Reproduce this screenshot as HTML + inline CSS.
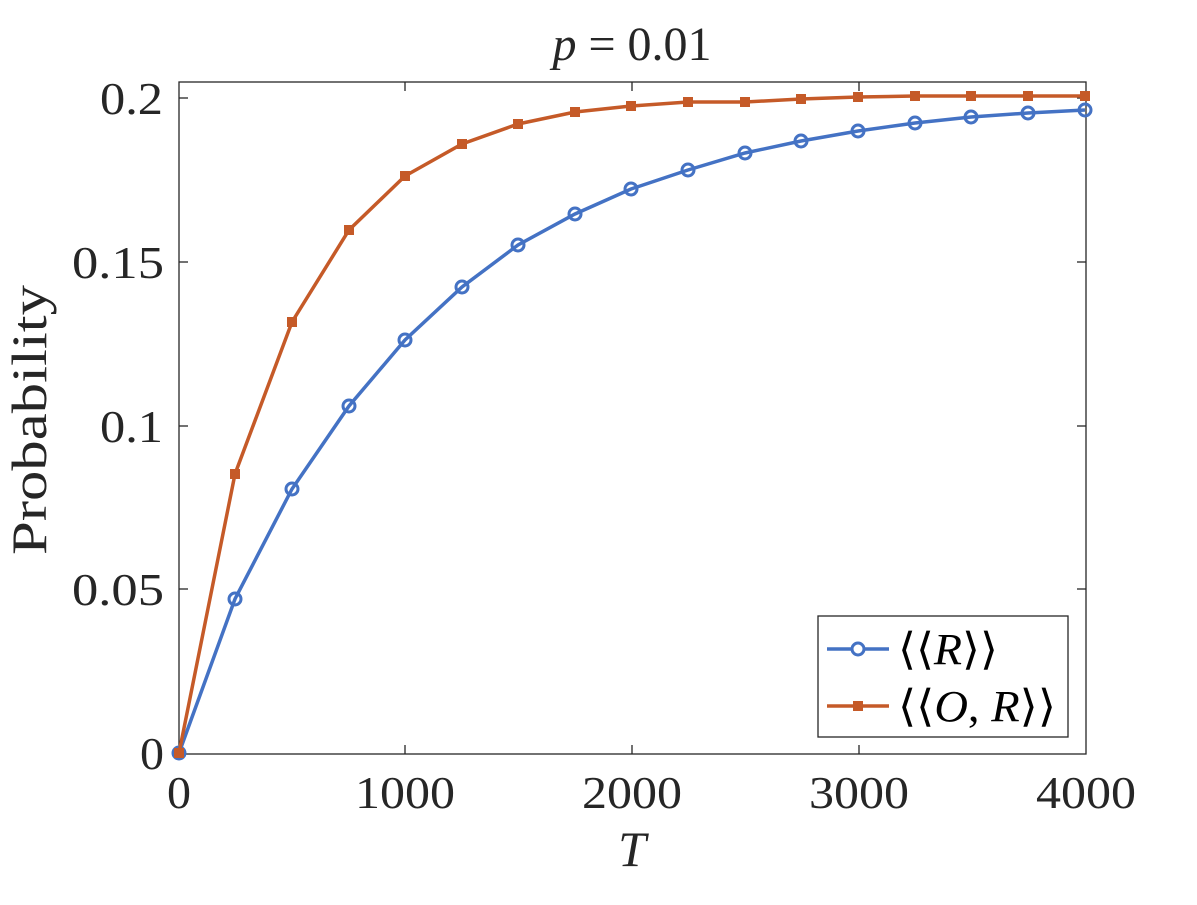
<!DOCTYPE html>
<html><head><style>body{margin:0;background:#fff}</style></head><body>
<svg width="1197" height="900" xmlns="http://www.w3.org/2000/svg" font-family="Liberation Serif, serif" fill="#262626">
<rect x="179" y="82" width="907" height="672" fill="#fff" stroke="#262626" stroke-width="1.3"/>
<g stroke="#262626" stroke-width="1.3">
<line x1="179" y1="98" x2="188" y2="98"/><line x1="179" y1="262" x2="188" y2="262"/><line x1="179" y1="426" x2="188" y2="426"/><line x1="179" y1="589" x2="188" y2="589"/>
<line x1="1086" y1="98" x2="1077" y2="98"/><line x1="1086" y1="262" x2="1077" y2="262"/><line x1="1086" y1="426" x2="1077" y2="426"/><line x1="1086" y1="589" x2="1077" y2="589"/>
<line x1="405" y1="754" x2="405" y2="745"/><line x1="632" y1="754" x2="632" y2="745"/><line x1="859" y1="754" x2="859" y2="745"/>
<line x1="405" y1="82" x2="405" y2="91"/><line x1="632" y1="82" x2="632" y2="91"/><line x1="859" y1="82" x2="859" y2="91"/>
</g>
<g font-size="46">
<text x="100" y="114" textLength="63" lengthAdjust="spacingAndGlyphs">0.2</text>
<text x="72" y="278" textLength="92" lengthAdjust="spacingAndGlyphs">0.15</text>
<text x="100" y="442" textLength="63" lengthAdjust="spacingAndGlyphs">0.1</text>
<text x="72" y="605" textLength="92" lengthAdjust="spacingAndGlyphs">0.05</text>
<text x="140" y="769" textLength="24" lengthAdjust="spacingAndGlyphs">0</text>
<text x="167" y="808" textLength="24" lengthAdjust="spacingAndGlyphs">0</text>
<text x="355" y="808" textLength="100" lengthAdjust="spacingAndGlyphs">1000</text>
<text x="582" y="808" textLength="100" lengthAdjust="spacingAndGlyphs">2000</text>
<text x="809" y="808" textLength="100" lengthAdjust="spacingAndGlyphs">3000</text>
<text x="1036" y="808" textLength="100" lengthAdjust="spacingAndGlyphs">4000</text>
</g>
<g text-anchor="middle">
<text x="632" y="866" font-style="italic" font-size="50">T</text>
<text x="632" y="60" font-size="48"><tspan font-style="italic">p</tspan> = 0.01</text>
<text transform="translate(46,420) rotate(-90)" font-size="50" textLength="270" lengthAdjust="spacingAndGlyphs">Probability</text>
</g>
<polyline fill="none" stroke="#4472c4" stroke-width="3.5" points="179,753 235,599 292,489 349,406 405,340 462,287 518,245 575,214 631,189 688,170 745,153 801,141 858,131 915,123 971,117 1028,113 1085,110"/>
<g fill="none" stroke="#4472c4" stroke-width="3">
<circle cx="179" cy="753" r="6"/><circle cx="235" cy="599" r="6"/><circle cx="292" cy="489" r="6"/><circle cx="349" cy="406" r="6"/><circle cx="405" cy="340" r="6"/><circle cx="462" cy="287" r="6"/><circle cx="518" cy="245" r="6"/><circle cx="575" cy="214" r="6"/><circle cx="631" cy="189" r="6"/><circle cx="688" cy="170" r="6"/><circle cx="745" cy="153" r="6"/><circle cx="801" cy="141" r="6"/><circle cx="858" cy="131" r="6"/><circle cx="915" cy="123" r="6"/><circle cx="971" cy="117" r="6"/><circle cx="1028" cy="113" r="6"/><circle cx="1085" cy="110" r="6"/>
</g>
<polyline fill="none" stroke="#c55a28" stroke-width="3.5" points="179,753 235,474 292,322 349,230 405,176 462,144 518,124 575,112 631,106 688,102 745,102 801,99 858,97 915,96 971,96 1028,96 1085,96"/>
<g fill="#c55a28">
<rect x="174" y="748" width="10" height="10"/><rect x="230" y="469" width="10" height="10"/><rect x="287" y="317" width="10" height="10"/><rect x="344" y="225" width="10" height="10"/><rect x="400" y="171" width="10" height="10"/><rect x="457" y="139" width="10" height="10"/><rect x="513" y="119" width="10" height="10"/><rect x="570" y="107" width="10" height="10"/><rect x="626" y="101" width="10" height="10"/><rect x="683" y="97" width="10" height="10"/><rect x="740" y="97" width="10" height="10"/><rect x="796" y="94" width="10" height="10"/><rect x="853" y="92" width="10" height="10"/><rect x="910" y="91" width="10" height="10"/><rect x="966" y="91" width="10" height="10"/><rect x="1023" y="91" width="10" height="10"/><rect x="1080" y="91" width="10" height="10"/>
</g>
<rect x="818" y="616" width="250" height="121" fill="#fff" stroke="#262626" stroke-width="1.3"/>
<line x1="827" y1="649" x2="889" y2="649" stroke="#4472c4" stroke-width="3.5"/>
<circle cx="858" cy="649" r="6" fill="#fff" stroke="#4472c4" stroke-width="3"/>
<line x1="827" y1="706" x2="889" y2="706" stroke="#c55a28" stroke-width="3.5"/>
<rect x="853" y="701" width="10" height="10" fill="#c55a28"/>
<g font-size="44" fill="#000">
<text x="898" y="664" textLength="100" lengthAdjust="spacingAndGlyphs">⟨⟨<tspan font-style="italic">R</tspan>⟩⟩</text>
<text x="898" y="721" textLength="158" lengthAdjust="spacingAndGlyphs">⟨⟨<tspan font-style="italic">O</tspan>, <tspan font-style="italic">R</tspan>⟩⟩</text>
</g>
</svg>
</body></html>
